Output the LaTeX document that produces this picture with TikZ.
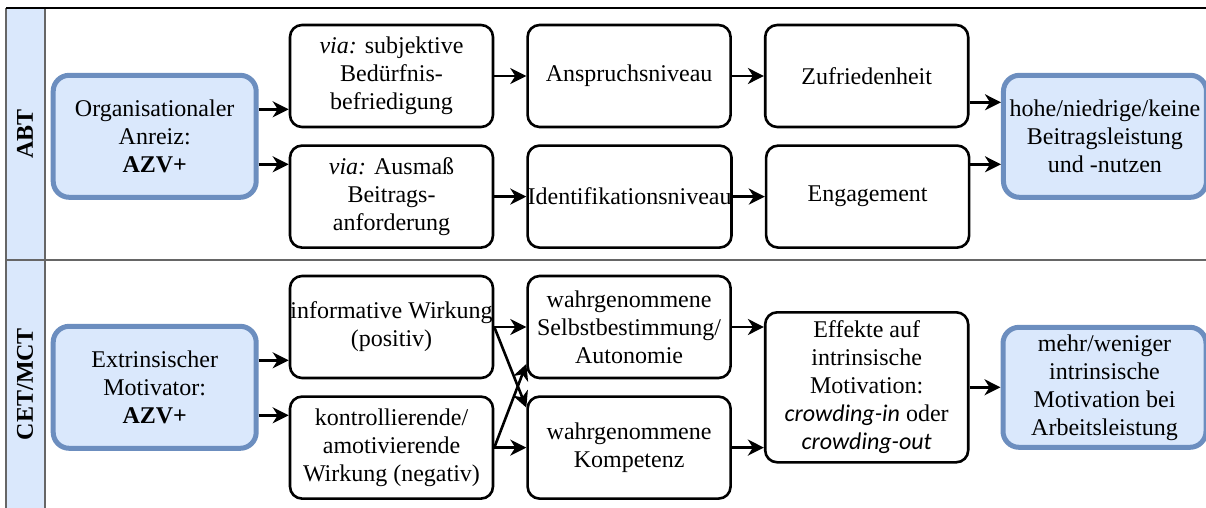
\documentclass[tikz,border=0pt]{standalone}
\usepackage{fontspec}
\setmainfont{LiberationSerif}[Extension=.ttf,UprightFont=*-Regular,BoldFont=*-Bold,ItalicFont=*-Italic,BoldItalicFont=*-BoldItalic]
\newfontfamily\crowdfont{Carlito}
\usepackage{xcolor}
\usepackage{tikz}
\usetikzlibrary{arrows.meta,positioning,calc}
\definecolor{LaneBlue}{HTML}{DAE8FC}
\definecolor{EdgeBlue}{HTML}{6C8EBF}
\definecolor{LaneGray}{HTML}{666666}

\begin{document}
\begin{tikzpicture}[x=0.5pt,y=-0.5pt,>={Stealth[length=8pt,width=8pt,inset=2.5pt]},node distance=8pt and 16pt,every node/.style={font=\rmfamily\fontsize{12}{14}\selectfont}]
\tikzset{stepbox/.style={draw,line width=1.3pt,rounded corners=6pt,minimum width=101.5pt,minimum height=51pt,inner sep=0pt,align=center},
endbox/.style={draw=EdgeBlue,fill=LaneBlue,line width=2.5pt,rounded corners=8pt,minimum width=101.5pt,minimum height=61pt,inner sep=0pt,align=center},
lanehead/.style={rotate=90,font=\rmfamily\bfseries\fontsize{12}{14}\selectfont},
flow/.style={->,line width=1.3pt}}
\useasboundingbox (0,0) rectangle (1206,508);
\fill[LaneBlue] (6,8) rectangle (45,508);
\draw[LaneGray,line width=1.2pt] (6,508)--(6,8) (45,8)--(45,508) (6,260)--(1206,260);
\draw[line width=1.2pt] (6,8)--(1206,8);
\node[lanehead] (abt) at (25,134) {ABT};
\node[lanehead] (cet) at (25,384) {CET/MCT};
\node[stepbox] (subj) at (391.5,76) {\textit{via:} subjektive\\Bedürfnis-\\befriedigung};
\node[stepbox,right=of subj] (ansp) {Anspruchsniveau};
\node[stepbox,right=of ansp] (zufr) {Zufriedenheit};
\node[stepbox,below=of subj] (ausm) {\textit{via:} Ausmaß\\Beitrags-\\anforderung};
\node[stepbox,right=of ausm] (ident) {Identifikationsniveau};
\node[stepbox,right=of ident] (eng) {Engagement};
\coordinate (abtin) at ($(subj.west)!0.5!(ausm.west)$);
\coordinate (abtout) at ($(zufr.east)!0.5!(eng.east)$);
\node[endbox,left=15pt of abtin] (orga) {Organisationaler\\Anreiz:\\\textbf{AZV+}};
\node[endbox,right=15.5pt of abtout] (hohe) {hohe/niedrige/keine\\Beitragsleistung\\und -nutzen};
\node[stepbox] (info) at (391.5,327) {informative Wirkung\\(positiv)};
\node[stepbox,below=of info] (kontr) {kontrollierende/\\amotivierende\\Wirkung (negativ)};
\node[stepbox,right=of info] (selbst) {wahrgenommene\\Selbstbestimmung/\\Autonomie};
\node[stepbox,right=of kontr] (komp) {wahrgenommene\\Kompetenz};
\coordinate (cetin) at ($(info.west)!0.5!(kontr.west)$);
\coordinate (cetmid) at ($(selbst.east)!0.5!(komp.east)$);
\node[endbox,left=15pt of cetin] (ext) {Extrinsischer\\Motivator:\\\textbf{AZV+}};
\node[stepbox,minimum height=75pt,right=16pt of cetmid] (eff) {Effekte auf\\intrinsische\\Motivation:\\{\crowdfont\itshape crowding-in} oder\\{\crowdfont\itshape crowding-out}};
\node[endbox,minimum height=60pt,right=15.5pt of eff] (mehr) {mehr/weniger\\intrinsische\\Motivation bei\\Arbeitsleistung};
\draw[flow] ([yshift=13.5pt]orga.east)--([yshift=13.5pt]orga.east -| subj.west);
\draw[flow] ([yshift=-14pt]orga.east)--([yshift=-14pt]orga.east -| ausm.west);
\draw[flow] (subj)--(ansp);
\draw[flow] (ansp)--(zufr);
\draw[flow] (ausm)--(ident);
\draw[flow] (ident)--(eng);
\draw[flow] ([yshift=17pt]hohe.west -| zufr.east)--([yshift=17pt]hohe.west);
\draw[flow] ([yshift=-14pt]hohe.west -| eng.east)--([yshift=-14pt]hohe.west);
\draw[flow] ([yshift=13.5pt]ext.east)--([yshift=13.5pt]ext.east -| info.west);
\draw[flow] ([yshift=-14pt]ext.east)--([yshift=-14pt]ext.east -| kontr.west);
\draw[flow] (info)--(selbst);
\draw[flow] (kontr)--(komp);
\draw[flow] (info.east)--([yshift=20pt]komp.west);
\draw[flow] (kontr.east)--([yshift=-18.5pt]selbst.west);
\draw[flow] (selbst.east)--(selbst.east -| eff.west);
\draw[flow] (komp.east)--(komp.east -| eff.west);
\draw[flow] (eff)--(mehr);
\end{tikzpicture}
\end{document}
